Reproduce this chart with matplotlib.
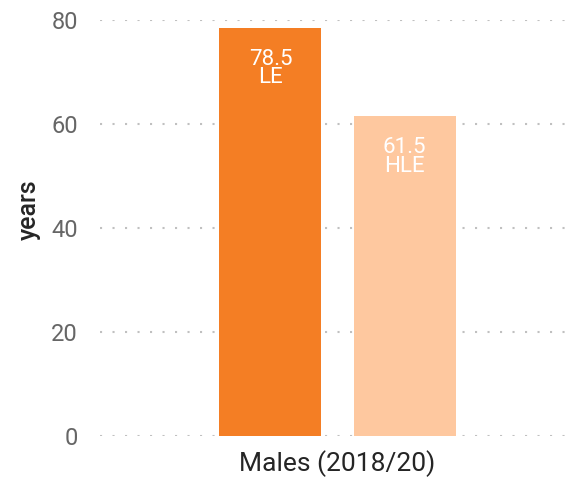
import matplotlib.pyplot as plt

# data
group = "Males (2018/20)"
measures = ["LE", "HLE"]
values = [78.5, 61.5]
colors = ["#F47E24", "#FEC89F"]
y_ticks = [0, 20, 40, 60, 80]

plt.rcParams['font.family'] = ['Roboto', 'DejaVu Sans']

fig = plt.figure(figsize=(5.69, 4.79), dpi=100)
ax = fig.add_axes([0.1757, 0.0898, 0.835, 0.8685])

offsets = [-0.2825, 0.2825]
for off, m, v, c in zip(offsets, measures, values, colors):
    ax.bar(off, v, width=0.43, color=c, zorder=2)
    ax.annotate(f"{v}\n{m}", xy=(off, v), xytext=(0, -15), textcoords="offset points",
                ha="center", va="top", color="white", fontsize=16, linespacing=0.85)

ax.set_xlim(-1, 1)
ax.set_ylim(0, 80)
ax.set_yticks(y_ticks)
ax.set_xticks([0])
ax.set_xticklabels([group])
ax.tick_params(axis='y', length=0, pad=16, labelsize=17, labelcolor="#666666")
ax.tick_params(axis='x', length=0, pad=10, labelsize=19, labelcolor="#252525")
ax.yaxis.grid(True, linestyle=(0, (1, 5)), color="#c0c0c0", linewidth=1.5, zorder=0)
ax.set_axisbelow(True)
for s in ax.spines.values():
    s.set_visible(False)
ax.set_ylabel("years", fontsize=18, fontweight="medium", color="#252525")
ax.yaxis.set_label_coords(-0.125, 0.543)

fig.savefig("out.png", dpi=100)
